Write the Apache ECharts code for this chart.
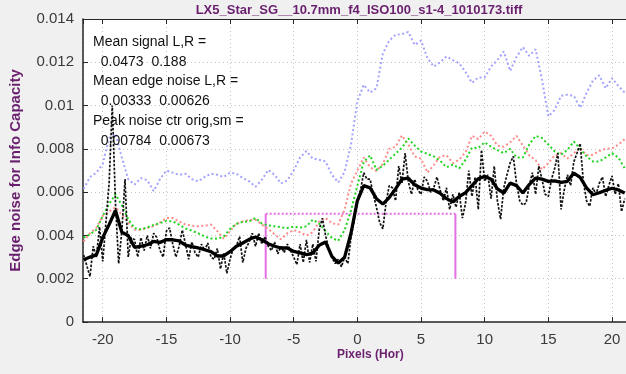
<!DOCTYPE html>
<html>
<head>
<meta charset="utf-8">
<script src="https://cdn.jsdelivr.net/npm/echarts@6/dist/echarts.min.js"></script>
<style>
  html, body { margin: 0; padding: 0; background: #f0f0f0; }
  #chart { width: 626px; height: 374px; }
</style>
</head>
<body>
<div id="chart"></div>
<script>
// Labels
const titleText = 'LX5_Star_SG__10.7mm_f4_ISO100_s1-4_1010173.tiff';
const yTitle = 'Edge noise for Info Capacity';
const xTitle = 'Pixels (Hor)';
const noteLines = [
  'Mean signal L,R =',
  '  0.0473  0.188',
  'Mean edge noise L,R =',
  '  0.00333  0.00626',
  'Peak noise ctr orig,sm =',
  '  0.00784  0.00673'
];

// Sample positions (pixels)
const coarseStart = -21.5, coarseStep = 0.5;   // smoothed curves
const fineStart = -21.5, fineStep = 0.25;      // raw edge noise

// Light blue dotted curve
const blueCurve = [
  0.00615, 0.0067, 0.0069, 0.0073, 0.0085, 0.0087, 0.0076, 0.0066, 0.00635, 0.00665,
  0.00655, 0.00605, 0.0066, 0.0070, 0.0069, 0.0068, 0.00685, 0.0066, 0.0065, 0.0067,
  0.00685, 0.0068, 0.0067, 0.0069, 0.00685, 0.00665, 0.0065, 0.00625, 0.00657, 0.00703,
  0.0068, 0.0064, 0.00655, 0.0070, 0.0076, 0.0079, 0.00755, 0.0075, 0.00742, 0.0068,
  0.00645, 0.00695, 0.0082, 0.0102, 0.01096, 0.0106, 0.0108, 0.0124, 0.0130, 0.01327,
  0.0133, 0.0134, 0.0128, 0.0130, 0.0122, 0.0118, 0.0120, 0.01227, 0.0121, 0.01195,
  0.01155, 0.01105, 0.0113, 0.0113, 0.0118, 0.0121, 0.0125, 0.0116, 0.01225, 0.0127,
  0.0123, 0.0126, 0.0112, 0.0095, 0.0098, 0.01045, 0.0105, 0.01045, 0.0099, 0.01058,
  0.01115, 0.0114, 0.0108, 0.01127, 0.0109, 0.0106
];

// Light red dotted curve
const redCurve = [
  0.00372, 0.0041, 0.00435, 0.0049, 0.0051, 0.0053, 0.00496, 0.0046, 0.00426, 0.00426,
  0.00435, 0.00442, 0.0046, 0.0048, 0.0048, 0.00465, 0.0045, 0.00445, 0.00442, 0.00445,
  0.0045, 0.0042, 0.00385, 0.0042, 0.00455, 0.00465, 0.00472, 0.00473, 0.0045, 0.0043,
  0.00405, 0.00382, 0.0041, 0.00425, 0.00415, 0.0040, 0.00415, 0.00465, 0.0048, 0.00457,
  0.0045, 0.0052, 0.0064, 0.0070, 0.0076, 0.00715, 0.00698, 0.0073, 0.0080, 0.0081,
  0.00862, 0.0082, 0.00765, 0.00755, 0.0069, 0.00725, 0.00765, 0.0077, 0.00734, 0.0075,
  0.00785, 0.0086, 0.00845, 0.0088, 0.0086, 0.00815, 0.0081, 0.0083, 0.0086, 0.00815,
  0.0077, 0.00748, 0.00705, 0.00734, 0.0077, 0.0078, 0.00755, 0.0078, 0.00805, 0.0077,
  0.00773, 0.0079, 0.0080, 0.00802, 0.00819, 0.00845
];

// Green dotted curve
const greenCurve = [
  0.0039, 0.00405, 0.00426, 0.0049, 0.00545, 0.0059, 0.0054, 0.00475, 0.00434, 0.00428,
  0.00437, 0.00448, 0.00457, 0.00467, 0.00465, 0.0045, 0.00432, 0.00422, 0.0041, 0.00395,
  0.00386, 0.00385, 0.00395, 0.0043, 0.00453, 0.00463, 0.00465, 0.0048, 0.00455, 0.00446,
  0.00442, 0.00438, 0.00434, 0.0044, 0.00436, 0.00442, 0.00473, 0.00455, 0.0042, 0.00388,
  0.00375, 0.00425, 0.00515, 0.0063, 0.0074, 0.0077, 0.00703, 0.00722, 0.0075, 0.00778,
  0.00805, 0.00848, 0.00815, 0.00788, 0.00777, 0.00765, 0.00745, 0.00715, 0.00727, 0.0071,
  0.0075, 0.00805, 0.00804, 0.0083, 0.0081, 0.00794, 0.0078, 0.0080, 0.0076, 0.0076,
  0.0082, 0.0086, 0.0085, 0.0082, 0.00788, 0.00773, 0.00795, 0.00834, 0.0080, 0.00765,
  0.00742, 0.00742, 0.0076, 0.0078, 0.0076, 0.0071
];

// Smoothed edge noise (thick black)
const smoothNoise = [
  0.00288, 0.0030, 0.0031, 0.0039, 0.0045, 0.00515, 0.00415, 0.0040, 0.00345, 0.0035,
  0.00357, 0.00372, 0.00368, 0.0038, 0.0038, 0.00375, 0.00355, 0.00348, 0.00342, 0.00334,
  0.00325, 0.00305, 0.00305, 0.00325, 0.0035, 0.00365, 0.00382, 0.00393, 0.0038, 0.00362,
  0.0035, 0.00342, 0.00342, 0.00326, 0.00319, 0.00311, 0.00318, 0.00355, 0.0037, 0.00303,
  0.00272, 0.0030, 0.0041, 0.0056, 0.0063, 0.0062, 0.0057, 0.00545, 0.00575, 0.00615,
  0.0066, 0.00665, 0.00634, 0.00619, 0.00612, 0.0061, 0.00595, 0.0057, 0.00555, 0.0058,
  0.00598, 0.0063, 0.00662, 0.00673, 0.0066, 0.00615, 0.00596, 0.00642, 0.0063, 0.00596,
  0.00635, 0.00665, 0.0066, 0.0065, 0.00652, 0.00645, 0.0065, 0.00688, 0.00668, 0.0062,
  0.00588, 0.00597, 0.00608, 0.00618, 0.0061, 0.00596
];

// Raw edge noise (thin black dotted)
const rawNoise = [
  0.0031, 0.0026, 0.0021, 0.0035, 0.0030, 0.0044, 0.0028, 0.0046,
  0.0064, 0.0100, 0.0055, 0.0027, 0.0042, 0.0066, 0.0030, 0.0039,
  0.0038, 0.0030, 0.0039, 0.0033, 0.0040, 0.0034, 0.0041, 0.0039,
  0.0033, 0.0030, 0.0042, 0.00435, 0.0036, 0.0030, 0.0035, 0.00425,
  0.0036, 0.0029, 0.0037, 0.0032, 0.0030, 0.0036, 0.0033, 0.00365,
  0.0030, 0.0029, 0.0034, 0.00245, 0.0032, 0.00225, 0.0029, 0.0034,
  0.0035, 0.00395, 0.00275, 0.0034, 0.0037, 0.0041, 0.0035, 0.0041,
  0.0036, 0.00395, 0.0035, 0.0033, 0.0037, 0.00315, 0.0035, 0.0032,
  0.0036, 0.0033, 0.0030, 0.00265, 0.0036, 0.00275, 0.0038, 0.00275,
  0.0036, 0.0028, 0.00425, 0.0048, 0.0040, 0.0034, 0.0030, 0.0027,
  0.0029, 0.00255, 0.0030, 0.0027, 0.0039, 0.0047, 0.0056, 0.0061,
  0.0069, 0.0066, 0.0066, 0.0059, 0.0053, 0.0046, 0.0043, 0.0055,
  0.0063, 0.0062, 0.0056, 0.0072, 0.0064, 0.0078, 0.0065, 0.0059,
  0.0066, 0.0061, 0.0059, 0.0067, 0.0065, 0.0060, 0.0062, 0.0067,
  0.0061, 0.0056, 0.0062, 0.0052, 0.0059, 0.0053, 0.0060, 0.0048,
  0.0055, 0.0070, 0.0058, 0.0067, 0.0052, 0.00795, 0.0065, 0.0068,
  0.0057, 0.0072, 0.0056, 0.00475, 0.0062, 0.0068, 0.00735, 0.00765,
  0.0064, 0.0056, 0.0054, 0.0055, 0.0063, 0.0069, 0.0059, 0.0072,
  0.0066, 0.0059, 0.0058, 0.0066, 0.0071, 0.0078, 0.0052, 0.0061,
  0.0068, 0.0063, 0.0074, 0.0078, 0.00825, 0.0065, 0.0056, 0.00535,
  0.0062, 0.0059, 0.0064, 0.0067, 0.0058, 0.0063, 0.00675, 0.0059,
  0.0064, 0.0051, 0.0057
];

// Centre region box (pixels, noise level)
const boxX = [-7.2, 7.7];
const boxY = [0.002, 0.005];

// Axis extents
const xRange = [-21.55, 21.1];
const yRange = [0, 0.014];
const yStep = 0.002;

const toPairs = (vals, start, step) => vals.map((v, i) => [start + i * step, v]);

const purple = '#6a1f6e';
const axisColor = '#262626';
const labelColor = '#3a3a3a';
const gridLine = { show: true, lineStyle: { color: '#c4c4c4', type: [1, 3], width: 1 } };

const chart = echarts.init(document.getElementById('chart'), null, { renderer: 'canvas' });

const lineSeries = (name, data, color, width, type, z) => ({
  name, type: 'line', data, showSymbol: false, symbol: 'none', silent: true, z,
  lineStyle: { color, width, type }
});

chart.setOption({
  animation: false,
  backgroundColor: '#f0f0f0',
  title: {
    text: titleText,
    left: 354, top: -1, textAlign: 'center',
    textStyle: { color: purple, fontSize: 13, fontWeight: 'bold', fontFamily: 'Liberation Sans, Arial, sans-serif' }
  },
  grid: {
    left: 82, right: 0, top: 19, bottom: 52,
    show: true, backgroundColor: '#ffffff', borderWidth: 0
  },
  xAxis: [{
    type: 'value', min: xRange[0], max: xRange[1], splitNumber: 8,
    axisLine: { show: true, onZero: false, lineStyle: { color: axisColor, width: 1.5 } },
    axisTick: { show: true, inside: true, length: 5, lineStyle: { color: axisColor } },
    axisLabel: {
      show: true, margin: 10, color: labelColor, fontSize: 15,
      fontFamily: 'Liberation Sans, Arial, sans-serif',
      showMinLabel: false, showMaxLabel: false
    },
    splitLine: gridLine
  }, {
    type: 'value', position: 'top', min: xRange[0], max: xRange[1], splitNumber: 8,
    axisLine: { show: true, onZero: false, lineStyle: { color: axisColor, width: 1 } },
    axisTick: { show: true, inside: true, length: 5, lineStyle: { color: axisColor } },
    axisLabel: { show: false },
    splitLine: { show: false }
  }],
  yAxis: {
    type: 'value', min: yRange[0], max: yRange[1], interval: yStep,
    name: yTitle, nameLocation: 'middle', nameGap: 60,
    nameTextStyle: { color: purple, fontSize: 15, fontWeight: 'bold', fontFamily: 'Liberation Sans, Arial, sans-serif' },
    axisLine: { show: true, onZero: false, lineStyle: { color: axisColor, width: 1.5 } },
    axisTick: { show: true, inside: true, length: 5, lineStyle: { color: axisColor } },
    axisLabel: { margin: 9, color: labelColor, fontSize: 15, fontFamily: 'Liberation Sans, Arial, sans-serif' },
    splitLine: gridLine
  },
  graphic: [
    {
      type: 'text', left: 337, top: 349, z: 100,
      style: { text: xTitle, fill: purple, font: 'bold 12px "Liberation Sans", Arial, sans-serif' }
    },
    {
      type: 'text', left: 93, top: 32, z: 100,
      style: {
        text: noteLines.join('\n'), fill: '#111111',
        font: '14px "Liberation Sans", Arial, sans-serif', lineHeight: 19.8
      }
    }
  ],
  series: [
    lineSeries('box top', [[boxX[0], boxY[1]], [boxX[1], boxY[1]]], '#e46ee4', 2, [2, 2], 1),
    lineSeries('box left', [[boxX[0], boxY[0]], [boxX[0], boxY[1]]], '#e46ee4', 2, 'solid', 1),
    lineSeries('box right', [[boxX[1], boxY[0]], [boxX[1], boxY[1]]], '#e46ee4', 2, 'solid', 1),
    lineSeries('blue', toPairs(blueCurve, coarseStart, coarseStep), '#a3a3ff', 2, [2, 2.5], 2),
    lineSeries('red', toPairs(redCurve, coarseStart, coarseStep), '#ff8a8a', 2, [2, 2.5], 3),
    lineSeries('green', toPairs(greenCurve, coarseStart, coarseStep), '#22d422', 2, [2, 2.5], 4),
    lineSeries('raw', toPairs(rawNoise, fineStart, fineStep), '#111111', 1.7, [2.5, 1.5], 5),
    lineSeries('smooth', toPairs(smoothNoise, coarseStart, coarseStep), '#000000', 3.3, 'solid', 6)
  ]
});
</script>
</body>
</html>
